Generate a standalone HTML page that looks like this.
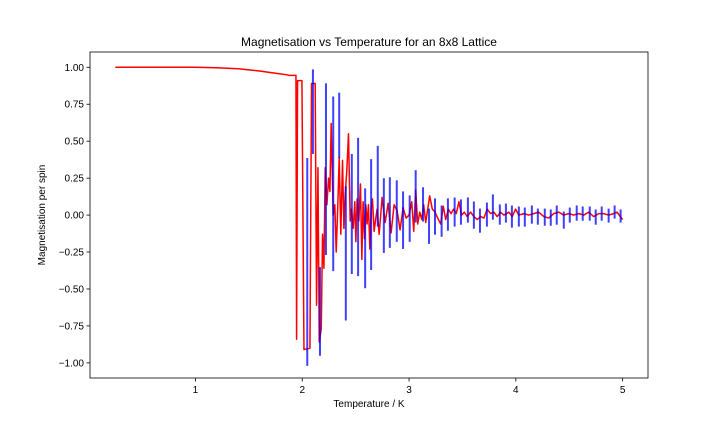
<!DOCTYPE html>
<html><head><meta charset="utf-8"><style>
html,body{margin:0;padding:0;background:#fff;}
svg{display:block;font-family:"Liberation Sans","DejaVu Sans",sans-serif;}
</style></head><body>
<svg id="chart" width="720" height="432" viewBox="0 0 720 432" xmlns="http://www.w3.org/2000/svg">
<rect width="720" height="432" fill="#fff"/>
<text x="369" y="46" font-size="12" text-anchor="middle" fill="#000">Magnetisation vs Temperature for an 8x8 Lattice</text>
<text x="369" y="407" font-size="10" text-anchor="middle" fill="#000">Temperature / K</text>
<text x="45" y="215" font-size="10" text-anchor="middle" fill="#000" transform="rotate(-90 45 215)">Magnetisation per spin</text>
<g id="plot"></g>
<g id="xt"></g>
<g id="yt"></g>
<rect x="90" y="52" width="558" height="326" fill="none" stroke="#000" stroke-width="0.8"/>
</svg>
<script>
const xTicks=[1,2,3,4,5];
const yTicks=[1.00,0.75,0.50,0.25,0.00,-0.25,-0.50,-0.75,-1.00];
const lineT=[0.25,1.0,1.2,1.4,1.6,1.75,1.85,1.879,1.941,1.947,1.956,1.997,2.016,2.072,2.087,2.121,2.134,2.147,2.159,2.178,2.190,2.203,2.215,2.231,2.246,2.259,2.271,2.290,2.305,2.318,2.333,2.346,2.361,2.377,2.390,2.402,2.417,2.433,2.449,2.461,2.477,2.492,2.502,2.514,2.530,2.545,2.558,2.570,2.583,2.595,2.607,2.620,2.633,2.645,2.657,2.673,2.689,2.701,2.720,2.748,2.776,2.804,2.832,2.860,2.888,2.916,2.944,2.972,3.000,3.025,3.044,3.062,3.081,3.100,3.119,3.137,3.156,3.175,3.193,3.218,3.243,3.268,3.296,3.321,3.343,3.368,3.393,3.417,3.442,3.467,3.492,3.517,3.545,3.576,3.607,3.639,3.670,3.701,3.732,3.763,3.794,3.825,3.857,3.888,3.935,3.966,3.997,4.028,4.075,4.121,4.168,4.215,4.262,4.308,4.355,4.402,4.449,4.495,4.542,4.589,4.636,4.682,4.729,4.776,4.822,4.869,4.916,4.947,4.978,5.0];
const lineM=[1.0,1.0,0.997,0.99,0.975,0.96,0.95,0.945,0.945,-0.84,0.91,0.91,-0.91,-0.90,0.89,0.89,-0.61,0.32,-0.86,-0.77,-0.13,-0.36,0.32,0.07,0.25,0.16,0.62,0.00,0.07,-0.25,0.07,0.39,-0.13,0.37,-0.09,0.14,0.30,0.55,-0.04,0.04,-0.09,0.09,-0.18,0.11,-0.04,0.21,-0.30,0.09,-0.16,0.07,-0.06,0.07,-0.23,0.04,0.11,-0.11,-0.02,0.04,-0.13,0.12,-0.05,0.08,-0.12,0.07,0.03,-0.10,0.05,-0.02,0.0,0.09,-0.11,0.17,-0.06,0.02,-0.03,0.07,-0.05,0.04,0.13,0.04,0.02,-0.02,-0.06,0.06,-0.03,0.04,0.01,0.04,0.01,0.09,0.0,0.02,-0.01,0.02,-0.01,-0.03,-0.01,-0.02,0.04,0.01,0.02,-0.01,0.02,0.0,0.02,-0.01,0.04,0.0,0.01,0.0,0.01,0.02,-0.01,-0.02,0.01,0.02,0.0,0.01,0.0,0.01,0.0,0.02,-0.01,0.01,0.01,0.0,0.01,0.02,-0.01,-0.03];
const barT=[2.047,2.100,2.166,2.222,2.290,2.346,2.408,2.464,2.523,2.589,2.645,2.707,2.764,2.820,2.885,2.944,3.006,3.062,3.131,3.187,3.243,3.305,3.364,3.427,3.486,3.551,3.607,3.664,3.729,3.785,3.850,3.907,3.963,4.028,4.084,4.150,4.206,4.271,4.327,4.383,4.449,4.505,4.570,4.626,4.692,4.748,4.804,4.869,4.925,4.981];
const barHigh=[0.386,0.986,-0.352,0.891,0.802,0.829,0.195,0.413,0.522,0.181,0.379,0.468,0.249,0.256,0.235,0.160,0.133,0.304,0.188,0.044,0.113,0.065,0.113,0.119,0.106,0.119,0.092,0.044,0.085,0.140,0.072,0.078,0.065,0.058,0.051,0.065,0.044,0.044,0.038,0.065,0.024,0.051,0.065,0.058,0.058,0.038,0.058,0.044,0.065,0.038];
const barLow=[-1.020,0.413,-0.952,-0.270,-0.379,0.386,-0.713,-0.399,-0.413,-0.495,-0.372,-0.078,-0.256,-0.222,-0.181,-0.229,-0.181,-0.05,-0.044,-0.195,-0.133,-0.147,-0.106,-0.078,-0.065,-0.051,-0.092,-0.119,-0.078,-0.031,-0.065,-0.051,-0.085,-0.078,-0.078,-0.058,-0.065,-0.072,-0.072,-0.065,-0.092,-0.051,-0.038,-0.038,-0.038,-0.065,-0.038,-0.051,-0.024,-0.051];

const NS='http://www.w3.org/2000/svg';
const X0=90,X1=648,Y0=52,Y1=378;
const xMin=0.0125,xMax=5.2375,yMin=-1.1024,yMax=1.1035;
function sx(t){return X0+(t-xMin)/(xMax-xMin)*(X1-X0);}
function sy(v){return Y1-(v-yMin)/(yMax-yMin)*(Y1-Y0);}
function mk(tag,attrs,parent){const e=document.createElementNS(NS,tag);for(const k in attrs)e.setAttribute(k,attrs[k]);parent.appendChild(e);return e;}
const plot=document.getElementById('plot'),xt=document.getElementById('xt'),yt=document.getElementById('yt');

let d='';
for(let i=0;i<lineT.length;i++)d+=(i?'L':'M')+sx(lineT[i]).toFixed(2)+' '+sy(lineM[i]).toFixed(2);
const line=mk('path',{d:d,fill:'none',stroke:'#ff0000','stroke-width':1.5,'stroke-linejoin':'round'},plot);



for(let i=0;i<barT.length;i++){
  const b=mk('line',{x1:sx(barT[i]),x2:sx(barT[i]),y1:sy(barHigh[i]),y2:sy(barLow[i]),stroke:'#0000ff','stroke-opacity':0.75,'stroke-width':2},plot);
  
  
}

for(const t of xTicks){
  const x=sx(t);
  const tk=mk('line',{x1:x,x2:x,y1:Y1,y2:Y1+3.5,stroke:'#000','stroke-width':0.8},xt);
  
  
  const lb=mk('text',{x:x,y:Y1+15,'font-size':10,'text-anchor':'middle',fill:'#000'},xt);
  lb.textContent=String(t);
  
  
}
for(const v of yTicks){
  const y=sy(v);
  const tk=mk('line',{x1:X0-3.5,x2:X0,y1:y,y2:y,stroke:'#000','stroke-width':0.8},yt);
  
  
  const lb=mk('text',{x:X0-6,y:y+3.5,'font-size':10,'text-anchor':'end',fill:'#000'},yt);
  lb.textContent=(v<0?'\u2212'+Math.abs(v).toFixed(2):v.toFixed(2));
  
  
}
</script>
</body></html>
